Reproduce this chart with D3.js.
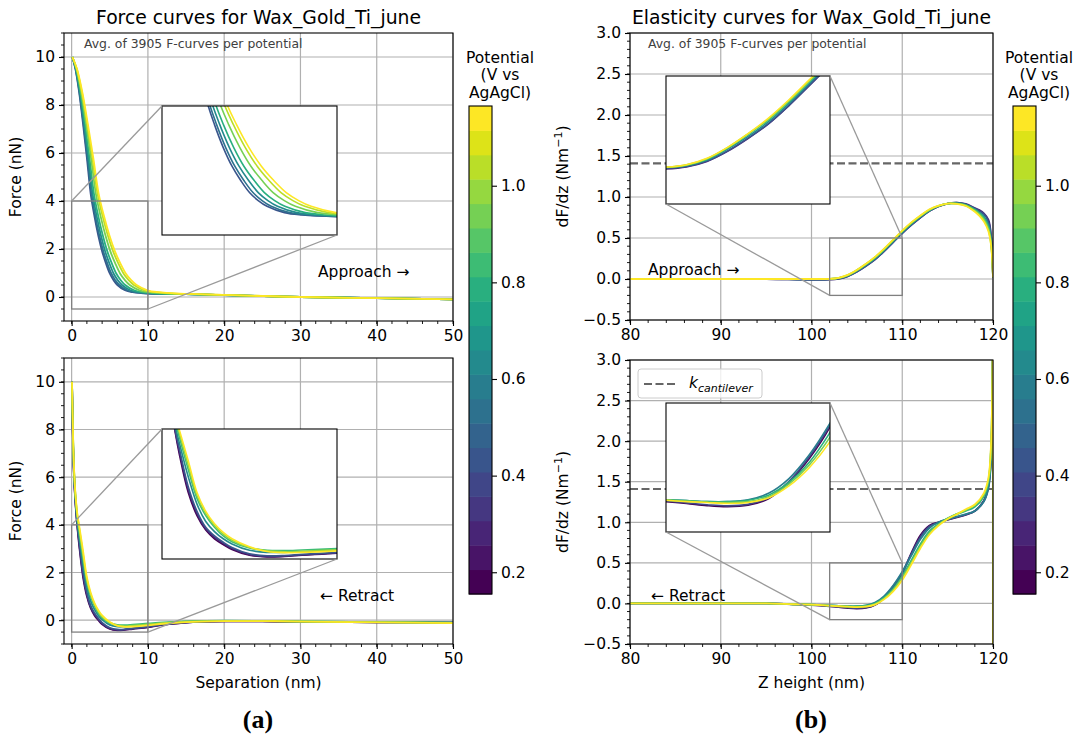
<!DOCTYPE html>
<html>
<head>
<meta charset="utf-8">
<script src="https://cdn.jsdelivr.net/npm/d3@7"></script>
<style>
  body { margin: 0; background: #fff; }
  svg { font-family: "DejaVu Sans", sans-serif; }
  .tick text { font-size: 15.5px; fill: #000; font-family: "DejaVu Sans", sans-serif; }
  .tick line { stroke: #000; stroke-width: 1.1; }
</style>
</head>
<body>
<svg id="fig" width="1081" height="740"></svg>
<script>
// colour bar (potential, V vs AgAgCl)
const cbarTicks = [0.2, 0.4, 0.6, 0.8, 1.0];
const cbarRange = [0.155, 1.165];
const cbarBins = 20;
const kCantilever = 1.41;

// (a) top: approach force, separation reached at each force level
const approachPotentials = [0.42, 0.52, 0.65, 0.80, 0.95, 1.05, 1.13];
const approachForce = [10, 9.5, 8.5, 7.2, 5.8, 4.3, 3.35, 2.55, 1.9, 1.4, 0.98, 0.7, 0.5, 0.28, 0.2, 0.14, 0.12, 0.08, 0.0, -0.05, -0.1];
const approachSep = [
  [0.1, 0.5, 1, 1.5, 2, 2.5, 3, 3.5, 4, 4.5, 5, 5.5, 6, 7, 8, 10, 15, 20, 30, 40, 50],
  [0.1, 0.52, 1.04, 1.56, 2.08, 2.6, 3.12, 3.64, 4.16, 4.68, 5.2, 5.72, 6.24, 7.28, 8.32, 10.4, 15, 20, 30, 40, 50],
  [0.1, 0.55, 1.1, 1.65, 2.2, 2.75, 3.3, 3.85, 4.4, 4.95, 5.5, 6.05, 6.6, 7.7, 8.8, 11, 15, 20, 30, 40, 50],
  [0.1, 0.59, 1.17, 1.76, 2.34, 2.93, 3.51, 4.1, 4.68, 5.27, 5.85, 6.44, 7.02, 8.19, 9.36, 11.7, 15, 20, 30, 40, 50],
  [0.1, 0.64, 1.27, 1.91, 2.54, 3.18, 3.81, 4.45, 5.08, 5.72, 6.35, 6.99, 7.62, 8.89, 10.16, 12.7, 15.5, 20, 30, 40, 50],
  [0.1, 0.68, 1.36, 2.04, 2.72, 3.4, 4.08, 4.76, 5.44, 6.12, 6.8, 7.48, 8.16, 9.52, 10.88, 13.6, 16, 21, 30, 40, 50],
  [0.1, 0.71, 1.42, 2.13, 2.84, 3.55, 4.26, 4.97, 5.68, 6.39, 7.1, 7.81, 8.52, 9.94, 11.36, 14.2, 16.5, 21, 30, 40, 50]
];

// (a) bottom: retract force vs separation
const retractPotentials = [0.20, 0.30, 0.45, 0.65, 0.85, 1.00, 1.13];
const retractSep = [0.05, 0.15, 0.3, 0.5, 0.75, 1, 1.5, 2, 2.5, 3, 3.5, 4, 5, 6, 7, 8, 10, 12, 15, 20, 25, 30, 40, 50];
const retractForce = [
  [10, 7.9, 6.1, 4.9, 3.9, 3.1, 1.8, 1.0, 0.5, 0.2, 0.0, -0.17, -0.37, -0.43, -0.41, -0.37, -0.3, -0.2, -0.1, -0.05, -0.05, -0.07, -0.09, -0.1],
  [10, 7.95, 6.15, 4.95, 3.95, 3.2, 1.9, 1.08, 0.55, 0.25, 0.04, -0.14, -0.35, -0.42, -0.4, -0.36, -0.29, -0.19, -0.1, -0.05, -0.05, -0.07, -0.09, -0.1],
  [10, 8.0, 6.2, 5.0, 4.0, 3.3, 2.0, 1.15, 0.6, 0.3, 0.08, -0.1, -0.32, -0.39, -0.38, -0.34, -0.27, -0.18, -0.09, -0.04, -0.04, -0.07, -0.09, -0.1],
  [10, 8.1, 6.3, 5.1, 4.15, 3.5, 2.35, 1.4, 0.8, 0.45, 0.2, 0.02, -0.2, -0.27, -0.27, -0.25, -0.18, -0.12, -0.06, -0.03, -0.03, -0.06, -0.08, -0.1],
  [10, 8.2, 6.4, 5.2, 4.3, 3.7, 2.6, 1.6, 1.0, 0.6, 0.3, 0.1, -0.12, -0.2, -0.21, -0.19, -0.14, -0.09, -0.05, -0.02, -0.03, -0.05, -0.08, -0.1],
  [10, 8.25, 6.45, 5.25, 4.4, 3.85, 2.75, 1.7, 1.08, 0.66, 0.36, 0.15, -0.1, -0.22, -0.25, -0.23, -0.18, -0.12, -0.06, -0.03, -0.03, -0.05, -0.08, -0.11],
  [10, 8.3, 6.5, 5.3, 4.45, 3.95, 2.9, 1.8, 1.15, 0.72, 0.42, 0.2, -0.08, -0.24, -0.28, -0.27, -0.22, -0.15, -0.08, -0.04, -0.04, -0.06, -0.09, -0.12]
];

// (b) top: approach elasticity dF/dz vs Z height
const elastApproachPotentials = [0.30, 0.45, 0.65, 0.85, 1.00, 1.13];
const elastApproachZ = [80, 85, 90, 95, 100, 102, 103, 104, 105, 106, 107, 108, 109, 110, 111, 112, 113, 114, 115, 116, 117, 118, 118.5, 119, 119.5, 119.8, 120];
const elastApproachSlope = [
  [0, 0, 0, 0, -0.01, -0.008, 0.003, 0.033, 0.088, 0.158, 0.238, 0.338, 0.448, 0.558, 0.658, 0.748, 0.828, 0.884, 0.92, 0.932, 0.915, 0.865, 0.84, 0.8, 0.72, 0.52, 0.02],
  [0, 0, 0, 0, -0.008, -0.005, 0.005, 0.035, 0.09, 0.16, 0.24, 0.34, 0.45, 0.56, 0.66, 0.75, 0.83, 0.885, 0.92, 0.93, 0.91, 0.86, 0.83, 0.79, 0.7, 0.5, 0.02],
  [0, 0, 0, 0, -0.005, 0, 0.01, 0.04, 0.1, 0.17, 0.25, 0.35, 0.46, 0.57, 0.67, 0.76, 0.835, 0.89, 0.92, 0.925, 0.905, 0.85, 0.81, 0.76, 0.66, 0.46, 0.02],
  [0, 0, 0, 0, 0, 0, 0.012, 0.045, 0.105, 0.18, 0.26, 0.36, 0.47, 0.58, 0.68, 0.765, 0.84, 0.89, 0.92, 0.92, 0.9, 0.84, 0.8, 0.74, 0.63, 0.43, 0.02],
  [0, 0, 0, 0, 0, 0.001, 0.014, 0.048, 0.108, 0.183, 0.265, 0.365, 0.475, 0.585, 0.685, 0.77, 0.845, 0.893, 0.92, 0.918, 0.895, 0.83, 0.785, 0.72, 0.6, 0.41, 0.02],
  [0, 0, 0, 0, 0, 0.002, 0.015, 0.05, 0.11, 0.185, 0.27, 0.37, 0.48, 0.59, 0.69, 0.775, 0.85, 0.895, 0.92, 0.915, 0.89, 0.82, 0.77, 0.7, 0.58, 0.4, 0.02]
];

// (b) bottom: retract elasticity
const elastRetractPotentials = [0.20, 0.40, 0.60, 0.80, 0.95, 1.13];
const elastRetractZ = [80, 85, 90, 95, 98, 100, 102, 103, 104, 105, 106, 107, 108, 109, 110, 111, 112, 113, 114, 115, 116, 117, 118, 119, 119.5, 119.8, 120, 120];
const elastRetractSlope = [
  [0, 0, 0, 0, -0.01, -0.02, -0.035, -0.045, -0.057, -0.063, -0.055, -0.02, 0.07, 0.2, 0.37, 0.62, 0.84, 0.96, 1.0, 1.03, 1.06, 1.09, 1.14, 1.27, 1.45, 1.85, 3.3, -0.7],
  [0, 0, 0, 0, -0.01, -0.018, -0.032, -0.042, -0.052, -0.058, -0.05, -0.015, 0.075, 0.21, 0.38, 0.61, 0.82, 0.95, 1.0, 1.035, 1.065, 1.095, 1.14, 1.26, 1.44, 1.82, 3.3, -0.7],
  [0, 0, 0, 0, -0.01, -0.015, -0.025, -0.03, -0.035, -0.035, -0.025, 0.01, 0.09, 0.22, 0.39, 0.59, 0.79, 0.93, 1.0, 1.04, 1.07, 1.1, 1.14, 1.26, 1.42, 1.8, 3.3, -0.7],
  [0, 0, 0, 0, -0.01, -0.015, -0.025, -0.03, -0.035, -0.035, -0.028, 0.0, 0.07, 0.18, 0.34, 0.53, 0.73, 0.89, 0.98, 1.05, 1.1, 1.14, 1.19, 1.32, 1.5, 1.95, 3.3, -0.7],
  [0, 0, 0, 0, -0.01, -0.015, -0.027, -0.033, -0.038, -0.04, -0.035, -0.008, 0.06, 0.165, 0.315, 0.505, 0.705, 0.87, 0.97, 1.045, 1.1, 1.15, 1.21, 1.34, 1.52, 1.98, 3.3, -0.7],
  [0, 0, 0, 0, -0.01, -0.015, -0.028, -0.035, -0.04, -0.045, -0.04, -0.015, 0.05, 0.15, 0.29, 0.48, 0.68, 0.85, 0.96, 1.04, 1.1, 1.16, 1.22, 1.36, 1.55, 2.0, 3.3, -0.7]
];

// tick values
const sepTicks = [0, 10, 20, 30, 40, 50];
const forceTicks = [0, 2, 4, 6, 8, 10];
const zTicks = [80, 90, 100, 110, 120];
const slopeTicks = [-0.5, 0.0, 0.5, 1.0, 1.5, 2.0, 2.5, 3.0];

const avgText = 'Avg. of 3905 F-curves per potential';

const svg = d3.select('#fig');
let clipCount = 0;

function viridisBin(p) {
  const t = (p - cbarRange[0]) / (cbarRange[1] - cbarRange[0]);
  const i = Math.max(0, Math.min(cbarBins - 1, Math.floor(t * cbarBins)));
  return d3.interpolateViridis(i / (cbarBins - 1));
}

function makeClip(x, y, w, h) {
  const id = 'clip' + (clipCount++);
  svg.append('clipPath').attr('id', id)
    .append('rect').attr('x', x).attr('y', y).attr('width', w).attr('height', h);
  return `url(#${id})`;
}

function minorValues(domain, step) {
  const out = [];
  const start = Math.ceil(domain[0] / step - 1e-9);
  const stop = Math.floor(domain[1] / step + 1e-9);
  for (let i = start; i <= stop; i++) out.push(+(i * step).toFixed(6));
  return out;
}

function drawPanel(cfg) {
  const xScale = d3.scaleLinear().domain(cfg.xDomain).range([cfg.left, cfg.right]);
  const yScale = d3.scaleLinear().domain(cfg.yDomain).range([cfg.bottom, cfg.top]);
  const w = cfg.right - cfg.left,
        h = cfg.bottom - cfg.top;
  const $g = svg.append('g');

  // grid
  $g.append('g').selectAll('line').data(cfg.xTicks).join('line')
    .attr('x1', d => xScale(d)).attr('x2', d => xScale(d))
    .attr('y1', cfg.top).attr('y2', cfg.bottom)
    .attr('stroke', '#b0b0b0').attr('stroke-width', 1.2);
  $g.append('g').selectAll('line').data(cfg.yTicks).join('line')
    .attr('x1', cfg.left).attr('x2', cfg.right)
    .attr('y1', d => yScale(d)).attr('y2', d => yScale(d))
    .attr('stroke', '#b0b0b0').attr('stroke-width', 1.2);

  if (cfg.kLine) {
    $g.append('line')
      .attr('x1', cfg.left).attr('x2', cfg.right)
      .attr('y1', yScale(kCantilever)).attr('y2', yScale(kCantilever))
      .attr('stroke', '#666').attr('stroke-width', 2.2)
      .attr('stroke-dasharray', '8,3.5');
  }

  const line = d3.line()
    .x(d => xScale(d[0]))
    .y(d => yScale(d[1]))
    .curve(d3.curveCatmullRom.alpha(0.5));

  $g.append('g')
    .attr('clip-path', makeClip(cfg.left, cfg.top, w, h))
    .selectAll('path').data(cfg.series).join('path')
    .attr('d', d => line(d.points))
    .attr('fill', 'none')
    .attr('stroke', d => viridisBin(d.potential))
    .attr('stroke-width', 1.8);

  // zoomed region
  const z = cfg.zoom;
  $g.append('rect')
    .attr('x', xScale(z.x[0])).attr('y', yScale(z.y[1]))
    .attr('width', xScale(z.x[1]) - xScale(z.x[0]))
    .attr('height', yScale(z.y[0]) - yScale(z.y[1]))
    .attr('fill', 'none').attr('stroke', '#808080').attr('stroke-width', 1.3);

  // inset
  const ins = cfg.inset;
  const ix = d3.scaleLinear().domain(z.x).range([ins.left, ins.right]);
  const iy = d3.scaleLinear().domain(z.y).range([ins.bottom, ins.top]);
  const iline = d3.line()
    .x(d => ix(d[0]))
    .y(d => iy(d[1]))
    .curve(d3.curveCatmullRom.alpha(0.5));

  $g.append('rect')
    .attr('x', ins.left).attr('y', ins.top)
    .attr('width', ins.right - ins.left).attr('height', ins.bottom - ins.top)
    .attr('fill', '#fff');
  $g.append('g')
    .attr('clip-path', makeClip(ins.left, ins.top, ins.right - ins.left, ins.bottom - ins.top))
    .selectAll('path').data(cfg.series).join('path')
    .attr('d', d => iline(d.points))
    .attr('fill', 'none')
    .attr('stroke', d => viridisBin(d.potential))
    .attr('stroke-width', 1.6);
  $g.append('rect')
    .attr('x', ins.left).attr('y', ins.top)
    .attr('width', ins.right - ins.left).attr('height', ins.bottom - ins.top)
    .attr('fill', 'none').attr('stroke', '#000').attr('stroke-width', 1.1);

  // connectors
  const links = cfg.corners === 'ul-lr'
    ? [[z.x[0], z.y[1], ins.left, ins.top], [z.x[1], z.y[0], ins.right, ins.bottom]]
    : [[z.x[1], z.y[1], ins.right, ins.top], [z.x[0], z.y[0], ins.left, ins.bottom]];
  $g.append('g').selectAll('line').data(links).join('line')
    .attr('x1', d => xScale(d[0])).attr('y1', d => yScale(d[1]))
    .attr('x2', d => d[2]).attr('y2', d => d[3])
    .attr('stroke', '#9a9a9a').attr('stroke-width', 1.3);

  // axes
  const $x = $g.append('g')
    .attr('transform', `translate(0,${cfg.bottom})`)
    .call(d3.axisBottom(xScale).tickValues(cfg.xTicks).tickSize(5).tickPadding(4).tickFormat(cfg.xFormat));
  $x.select('.domain').remove();
  const $y = $g.append('g')
    .attr('transform', `translate(${cfg.left},0)`)
    .call(d3.axisLeft(yScale).tickValues(cfg.yTicks).tickSize(5).tickPadding(4).tickFormat(cfg.yFormat));
  $y.select('.domain').remove();

  $g.append('g').selectAll('line').data(minorValues(cfg.xDomain, cfg.xMinor)).join('line')
    .attr('x1', d => xScale(d)).attr('x2', d => xScale(d))
    .attr('y1', cfg.bottom).attr('y2', cfg.bottom + 3)
    .attr('stroke', '#000').attr('stroke-width', 0.9);
  $g.append('g').selectAll('line').data(minorValues(cfg.yDomain, cfg.yMinor)).join('line')
    .attr('x1', cfg.left - 3).attr('x2', cfg.left)
    .attr('y1', d => yScale(d)).attr('y2', d => yScale(d))
    .attr('stroke', '#000').attr('stroke-width', 0.9);

  $g.append('rect')
    .attr('x', cfg.left).attr('y', cfg.top).attr('width', w).attr('height', h)
    .attr('fill', 'none').attr('stroke', '#000').attr('stroke-width', 1.1);

  // texts
  if (cfg.avg) {
    $g.append('text').attr('x', cfg.left + cfg.avg[0]).attr('y', cfg.top + cfg.avg[1])
      .attr('font-size', 12.4).attr('fill', '#404040').text(avgText);
  }
  $g.append('text').attr('x', cfg.note[0]).attr('y', cfg.note[1])
    .attr('font-size', 15.5).text(cfg.noteText);

  if (cfg.yLabel) {
    const $t = $g.append('text')
      .attr('transform', `translate(${cfg.yLabelX},${(cfg.top + cfg.bottom) / 2}) rotate(-90)`)
      .attr('text-anchor', 'middle').attr('font-size', 15.5);
    cfg.yLabel($t);
  }
  if (cfg.xLabel) {
    $g.append('text').attr('x', (cfg.left + cfg.right) / 2).attr('y', cfg.bottom + 44)
      .attr('text-anchor', 'middle').attr('font-size', 15.5).text(cfg.xLabel);
  }
  if (cfg.title) {
    $g.append('text').attr('x', (cfg.left + cfg.right) / 2).attr('y', 24)
      .attr('text-anchor', 'middle').attr('font-size', 18.8).text(cfg.title);
  }
  return { xScale, yScale };
}

function drawColorbar(left, top, bottom, titleX) {
  const width = 23;
  const cScale = d3.scaleLinear().domain(cbarRange).range([bottom, top]);
  const binSize = (cbarRange[1] - cbarRange[0]) / cbarBins;
  const bins = d3.range(cbarBins);
  const $g = svg.append('g');
  $g.selectAll('rect.bin').data(bins).join('rect')
    .attr('class', 'bin')
    .attr('x', left)
    .attr('y', i => cScale(cbarRange[0] + (i + 1) * binSize))
    .attr('width', width)
    .attr('height', i => cScale(cbarRange[0] + i * binSize) - cScale(cbarRange[0] + (i + 1) * binSize) + 0.5)
    .attr('fill', i => d3.interpolateViridis(i / (cbarBins - 1)));
  $g.append('rect').attr('x', left).attr('y', top).attr('width', width).attr('height', bottom - top)
    .attr('fill', 'none').attr('stroke', '#000').attr('stroke-width', 1.1);
  const $ax = $g.append('g').attr('transform', `translate(${left + width},0)`)
    .call(d3.axisRight(cScale).tickValues(cbarTicks).tickSize(5).tickPadding(4).tickFormat(d3.format('.1f')));
  $ax.select('.domain').remove();
  ['Potential', '(V vs', 'AgAgCl)'].forEach((s, i) => {
    $g.append('text').attr('x', titleX).attr('y', 63 + i * 17.3)
      .attr('text-anchor', 'middle').attr('font-size', 15.5).text(s);
  });
}

function toSeries(potentials, rows) {
  return potentials.map((p, i) => ({ potential: p, points: rows[i] }));
}

const intFmt = d3.format('d');
const oneFmt = d3.format('.1f');

const forceLabel = t => t.text('Force (nN)');
const slopeLabel = t => {
  t.append('tspan').text('dF/dz (Nm');
  t.append('tspan').attr('font-size', 11).attr('dy', -6).text('\u22121');
  t.append('tspan').attr('dy', 6).text(')');
};

drawPanel({
  left: 64, right: 453, top: 33, bottom: 321,
  xDomain: [-1, 50], yDomain: [-1, 11],
  xTicks: sepTicks, yTicks: forceTicks, xMinor: 2, yMinor: 0.5,
  xFormat: intFmt, yFormat: intFmt,
  series: toSeries(approachPotentials, approachSep.map(xs => xs.map((x, j) => [x, approachForce[j]]))),
  zoom: { x: [0, 10], y: [-0.5, 4] },
  inset: { left: 162, right: 337, top: 106, bottom: 235 },
  corners: 'ul-lr',
  avg: [20, 15], note: [318, 277], noteText: 'Approach \u2192',
  yLabel: forceLabel, yLabelX: 21,
  title: 'Force curves for Wax_Gold_Ti_june'
});

drawPanel({
  left: 64, right: 453, top: 358, bottom: 644,
  xDomain: [-1, 50], yDomain: [-1, 11],
  xTicks: sepTicks, yTicks: forceTicks, xMinor: 2, yMinor: 0.5,
  xFormat: intFmt, yFormat: intFmt,
  series: toSeries(retractPotentials, retractForce.map(ys => ys.map((y, j) => [retractSep[j], y]))),
  zoom: { x: [0, 10], y: [-0.5, 4] },
  inset: { left: 162, right: 337, top: 429, bottom: 559 },
  corners: 'ul-lr',
  note: [320, 601], noteText: '\u2190 Retract',
  yLabel: forceLabel, yLabelX: 21,
  xLabel: 'Separation (nm)'
});

drawPanel({
  left: 630, right: 993, top: 33, bottom: 320,
  xDomain: [80, 120], yDomain: [-0.5, 3],
  xTicks: zTicks, yTicks: slopeTicks, xMinor: 2, yMinor: 0.1,
  xFormat: intFmt, yFormat: oneFmt,
  kLine: true,
  series: toSeries(elastApproachPotentials, elastApproachSlope.map(ys => ys.map((y, j) => [elastApproachZ[j], y]))),
  zoom: { x: [102, 110], y: [-0.2, 0.5] },
  inset: { left: 666, right: 830, top: 76, bottom: 204 },
  corners: 'ur-ll',
  avg: [18, 15], note: [648, 275], noteText: 'Approach \u2192',
  yLabel: slopeLabel, yLabelX: 568,
  title: 'Elasticity curves for Wax_Gold_Ti_june'
});

drawPanel({
  left: 630, right: 993, top: 360, bottom: 644,
  xDomain: [80, 120], yDomain: [-0.5, 3],
  xTicks: zTicks, yTicks: slopeTicks, xMinor: 2, yMinor: 0.1,
  xFormat: intFmt, yFormat: oneFmt,
  kLine: true,
  series: toSeries(elastRetractPotentials, elastRetractSlope.map(ys => ys.map((y, j) => [elastRetractZ[j], y]))),
  zoom: { x: [102, 110], y: [-0.2, 0.5] },
  inset: { left: 666, right: 830, top: 403, bottom: 532 },
  corners: 'ur-ll',
  note: [651, 601], noteText: '\u2190 Retract',
  yLabel: slopeLabel, yLabelX: 568,
  xLabel: 'Z height (nm)'
});

// legend for k_cantilever
const $legend = svg.append('g');
$legend.append('rect').attr('x', 638).attr('y', 369).attr('width', 124).attr('height', 29)
  .attr('rx', 3).attr('fill', '#fff').attr('fill-opacity', 0.8)
  .attr('stroke', '#ccc').attr('stroke-width', 1);
$legend.append('line').attr('x1', 644).attr('x2', 676).attr('y1', 384).attr('y2', 384)
  .attr('stroke', '#666').attr('stroke-width', 2.2).attr('stroke-dasharray', '8,3.5');
const $k = $legend.append('text').attr('x', 689).attr('y', 388).attr('font-size', 15.5).attr('font-style', 'italic');
$k.append('tspan').text('k');
$k.append('tspan').attr('font-size', 11).attr('dy', 3.5).text('cantilever');

drawColorbar(469, 106, 594, 500);
drawColorbar(1013, 106, 594, 1039);

// sub-figure captions
[['(a)', 258], ['(b)', 811]].forEach(([s, x]) => {
  svg.append('text').attr('x', x).attr('y', 728).attr('text-anchor', 'middle')
    .attr('font-family', '"Liberation Serif", serif').attr('font-weight', 'bold')
    .attr('font-size', 26).text(s);
});
</script>
</body>
</html>
